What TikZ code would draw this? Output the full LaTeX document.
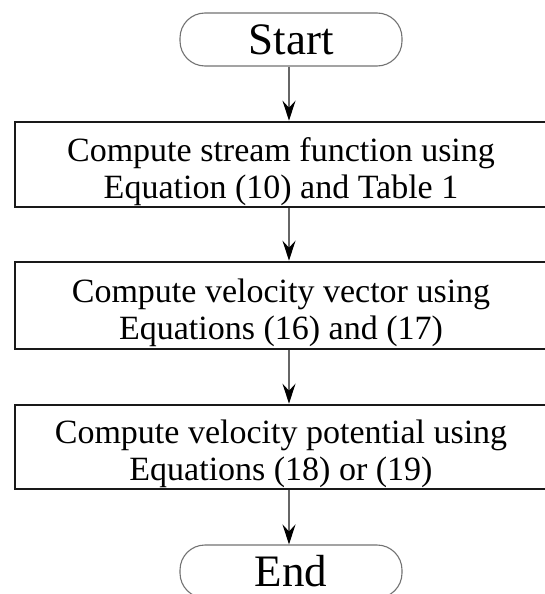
\documentclass[tikz,border=0pt]{standalone}
\usepackage{fontspec}
\setmainfont{Liberation Serif}
\usetikzlibrary{arrows.meta}
% taller first line pushes the two-line text a little lower in its box
\newcommand{\toppad}{\rule{0pt}{38pt}}
\begin{document}
\begin{tikzpicture}[x=1pt,y=-1pt,
  terminal/.style={draw=black!55, line width=1.1pt, rounded corners=25pt,
    minimum width=222pt, minimum height=53pt, inner sep=0pt,
    font=\fontsize{45}{50}\selectfont},
  process/.style={draw=black!90, line width=2.6pt,
    minimum width=532pt, inner sep=0pt, align=center,
    font=\fontsize{34}{37}\selectfont},
  flow/.style={draw=black!60, line width=1.2pt,
    -{Stealth[black, length=20pt, width=13pt, inset=7pt]}}]
  \useasboundingbox (0,0) rectangle (544,594);
  \fill[white] (0,0) rectangle (544,594);

  \coordinate (axis) at (289,0);

  \node[terminal] (start) at (291,39.5) {Start};
  \node[process, minimum height=85pt] (box1) at (281,164.5)
    {\toppad Compute stream function using\\Equation (10) and Table 1};
  \node[process, minimum height=87pt] (box2) at (281,305.5)
    {\toppad Compute velocity vector using\\Equations (16) and (17)};
  \node[process, minimum height=84pt] (box3) at (281,447)
    {\toppad Compute velocity potential using\\Equations (18) or (19)};
  \node[terminal] (end) at (291,571.5) {End};

  \draw[flow] (start.south -| axis) -- (box1.north -| axis);
  \draw[flow] (box1.south -| axis) -- (box2.north -| axis);
  \draw[flow] (box2.south -| axis) -- (box3.north -| axis);
  \draw[flow] (box3.south -| axis) -- (end.north -| axis);
\end{tikzpicture}
\end{document}
